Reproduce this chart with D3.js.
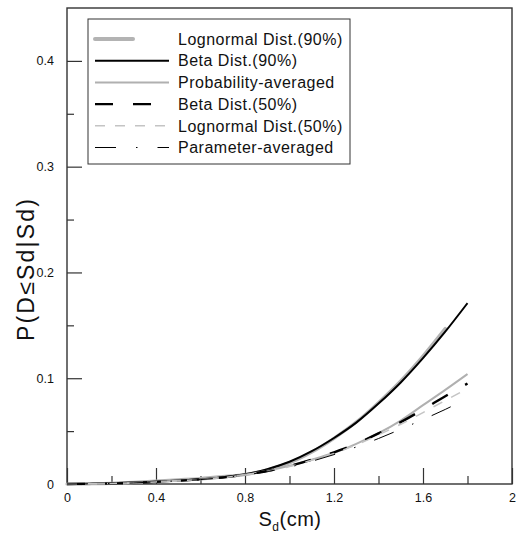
<!DOCTYPE html>
<html>
<head>
<meta charset="utf-8">
<script src="https://cdn.jsdelivr.net/npm/d3@7"></script>
<style>
  html, body { margin: 0; padding: 0; background: #fff; }
  svg { display: block; }
  text { font-family: "Liberation Sans", Arial, sans-serif; fill: #111; }
</style>
</head>
<body>
<svg id="chart" width="520" height="536"></svg>
<script>
// Spectral displacement Sd (cm)
const sd = [0, 0.1, 0.2, 0.3, 0.4, 0.5, 0.6, 0.7, 0.8, 0.9, 1.0, 1.1, 1.2, 1.3, 1.4, 1.5, 1.6, 1.7, 1.8];

// Fragility curves P(D <= Sd | Sd)
const lognormal90 = [0, 0.0002, 0.0006, 0.0015, 0.0028, 0.0040, 0.0052, 0.0070, 0.0090, 0.0133, 0.0200, 0.0302, 0.0432, 0.0585, 0.0770, 0.0975, 0.1210, 0.1470];
const beta90      = [0, 0.0003, 0.0008, 0.0015, 0.0022, 0.0032, 0.0044, 0.0065, 0.0092, 0.0140, 0.0210, 0.0310, 0.0435, 0.0580, 0.0760, 0.0960, 0.1190, 0.1440, 0.1710];
const probAvg     = [0, 0.0002, 0.0005, 0.0010, 0.0020, 0.0030, 0.0042, 0.0062, 0.0088, 0.0125, 0.0172, 0.0230, 0.0295, 0.0380, 0.0480, 0.0600, 0.0745, 0.0890, 0.1040];
const beta50      = [0, 0.0002, 0.0005, 0.0010, 0.0020, 0.0030, 0.0045, 0.0062, 0.0088, 0.0123, 0.0170, 0.0230, 0.0300, 0.0380, 0.0478, 0.0585, 0.0705, 0.0830, 0.0950];
const lognormal50 = [0, 0.0002, 0.0005, 0.0010, 0.0020, 0.0030, 0.0043, 0.0060, 0.0086, 0.0120, 0.0165, 0.0225, 0.0290, 0.0370, 0.0465, 0.0565, 0.0675, 0.0790, 0.0900];
const paramAvg    = [0, 0.0002, 0.0005, 0.0010, 0.0020, 0.0030, 0.0042, 0.0060, 0.0085, 0.0118, 0.0160, 0.0215, 0.0278, 0.0350, 0.0430, 0.0518, 0.0610, 0.0705, 0.0810];

// Axis ticks
const xMajorTicks = [0, 0.4, 0.8, 1.2, 1.6, 2];
const xMinorTicks = [0.2, 0.6, 1.0, 1.4, 1.8];
const xTickLabels = ["0", "0.4", "0.8", "1.2", "1.6", "2"];
const yMajorTicks = [0, 0.1, 0.2, 0.3, 0.4];
const yMinorTicks = [0.05, 0.15, 0.25, 0.35];
const yTickLabels = ["0", "0.1", "0.2", "0.3", "0.4"];

const seriesNames = ["Lognormal Dist.(90%)", "Beta Dist.(90%)", "Probability-averaged",
                     "Beta Dist.(50%)", "Lognormal Dist.(50%)", "Parameter-averaged"];

const styles = [
  { color: "#b3b3b3", width: 4,   dash: null,             cap: "round" },
  { color: "#000000", width: 2,   dash: null,             cap: "butt" },
  { color: "#b0b0b0", width: 2,   dash: null,             cap: "butt" },
  { color: "#000000", width: 2.4, dash: "18,20",          cap: "butt" },
  { color: "#c4c4c4", width: 1.5, dash: "10,10",          cap: "butt" },
  { color: "#000000", width: 1,   dash: "21,20,1.5,20",   cap: "butt" }
];
const seriesData = [lognormal90, beta90, probAvg, beta50, lognormal50, paramAvg];

const svg = d3.select("#chart");
const x = d3.scaleLinear().domain([0, 2]).range([67, 512]);
const y = d3.scaleLinear().domain([0, 0.45]).range([484, 8]);

const axisColor = "#333";

// Frame
svg.append("rect")
  .attr("x", x(0)).attr("y", y(0.45))
  .attr("width", x(2) - x(0)).attr("height", y(0) - y(0.45))
  .attr("fill", "none").attr("stroke", axisColor).attr("stroke-width", 1.4);

// Bottom axis: inward major / minor ticks
const xAxisMajor = d3.axisBottom(x).tickValues(xMajorTicks)
  .tickSizeInner(-16).tickSizeOuter(0).tickPadding(9)
  .tickFormat((d, i) => xTickLabels[i]);
const gx = svg.append("g").attr("transform", `translate(0,${y(0)})`).call(xAxisMajor);
gx.select(".domain").remove();
gx.selectAll("line").attr("stroke", axisColor).attr("stroke-width", 1.2);
gx.selectAll("text").attr("font-size", 12.5).attr("font-family", "Liberation Sans, Arial, sans-serif").attr("fill", "#111");

const gxm = svg.append("g").attr("transform", `translate(0,${y(0)})`)
  .call(d3.axisBottom(x).tickValues(xMinorTicks).tickSizeInner(-8).tickSizeOuter(0).tickFormat(""));
gxm.select(".domain").remove();
gxm.selectAll("line").attr("stroke", axisColor).attr("stroke-width", 1.2);

// Left axis
const yAxisMajor = d3.axisLeft(y).tickValues(yMajorTicks)
  .tickSizeInner(-15).tickSizeOuter(0).tickPadding(13)
  .tickFormat((d, i) => yTickLabels[i]);
const gy = svg.append("g").attr("transform", `translate(${x(0)},0)`).call(yAxisMajor);
gy.select(".domain").remove();
gy.selectAll("line").attr("stroke", axisColor).attr("stroke-width", 1.2);
gy.selectAll("text").attr("font-size", 12.5).attr("font-family", "Liberation Sans, Arial, sans-serif").attr("fill", "#111");

const gym = svg.append("g").attr("transform", `translate(${x(0)},0)`)
  .call(d3.axisLeft(y).tickValues(yMinorTicks).tickSizeInner(-7).tickSizeOuter(0).tickFormat(""));
gym.select(".domain").remove();
gym.selectAll("line").attr("stroke", axisColor).attr("stroke-width", 1.2);

// Curves
const line = d3.line().curve(d3.curveMonotoneX);
const plot = svg.append("g");
seriesData.forEach((vals, i) => {
  const pts = vals.map((v, j) => [x(sd[j]), y(v)]);
  const st = styles[i];
  plot.append("path")
    .attr("d", line(pts))
    .attr("fill", "none")
    .attr("stroke", st.color)
    .attr("stroke-width", i === 0 ? 3.2 : st.width)
    .attr("stroke-linecap", st.cap)
    .attr("stroke-dasharray", st.dash);
});

// Legend
const legend = svg.append("g");
legend.append("rect")
  .attr("x", 88).attr("y", 19).attr("width", 262).attr("height", 145)
  .attr("fill", "#fff").attr("stroke", axisColor).attr("stroke-width", 1);
seriesNames.forEach((name, i) => {
  const cy = 39 + i * 21.7;
  const st = styles[i];
  const x1 = 95, x2 = i === 0 ? 133 : 169;
  legend.append("line")
    .attr("x1", x1).attr("x2", x2).attr("y1", cy).attr("y2", cy)
    .attr("stroke", st.color).attr("stroke-width", st.width)
    .attr("stroke-linecap", st.cap)
    .attr("stroke-dasharray", st.dash);
  legend.append("text")
    .attr("x", 178).attr("y", cy).attr("dy", "0.36em")
    .attr("font-size", 16).attr("letter-spacing", 0.5)
    .text(name);
});

// Axis titles
const xt = svg.append("text")
  .attr("x", 290).attr("y", 526).attr("text-anchor", "middle")
  .attr("font-size", 20).attr("letter-spacing", 0.5);
xt.append("tspan").text("S");
xt.append("tspan").attr("font-size", 12).attr("dy", 5).text("d");
xt.append("tspan").attr("dy", -5).text("(cm)");

svg.append("text")
  .attr("transform", "translate(34,269) rotate(-90)")
  .attr("text-anchor", "middle")
  .attr("font-size", 23).attr("letter-spacing", 2.2)
  .text("P(D≤Sd|Sd)");
</script>
</body>
</html>
